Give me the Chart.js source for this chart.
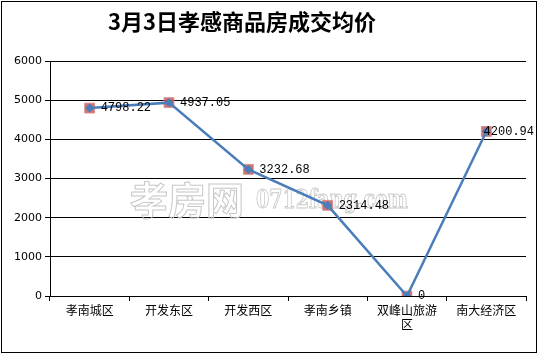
<!DOCTYPE html>
<html>
<head>
<meta charset="utf-8">
<script src="https://cdn.jsdelivr.net/npm/chart.js@4/dist/chart.umd.min.js"></script>
<style>
  html, body { margin: 0; padding: 0; background: #fff; }
  #wrap { width: 539px; height: 354px; position: relative; }
</style>
</head>
<body>
<div id="wrap"><canvas id="line-chart"></canvas></div>
<script>
// data
var titleText = "3月3日孝感商品房成交均价";
var districts = ["孝南城区", "开发东区", "开发西区", "孝南乡镇", ["双峰山旅游", "区"], "南大经济区"];
var avgPrice = [4798.22, 4937.05, 3232.68, 2314.48, 0, 4200.94];
var priceLabels = ["4798.22", "4937.05", "3232.68", "2314.48", "0", "4200.94"];
var yTicks = [0, 1000, 2000, 3000, 4000, 5000, 6000];

// frame, title, watermark and value labels
var decor = {
  id: "decor",
  beforeDraw: function(chart) {
    var ctx = chart.ctx;
    ctx.save();
    ctx.fillStyle = "#fff";
    ctx.fillRect(0, 0, chart.width, chart.height);
    ctx.strokeStyle = "#000";
    ctx.lineWidth = 1;
    ctx.strokeRect(1.5, 1.5, 535, 351);
    ctx.fillStyle = "#000";
    ctx.font = "bold 22px 'Noto Sans CJK SC'";
    ctx.textAlign = "center";
    ctx.textBaseline = "middle";
    ctx.fillText(titleText, 242, 22);
    ctx.restore();
  },
  beforeDatasetsDraw: function(chart) {
    var ctx = chart.ctx;
    ctx.save();
    ctx.strokeStyle = "#c8c8c8";
    ctx.lineWidth = 1;
    ctx.textBaseline = "alphabetic";
    ctx.font = "bold 38px 'Noto Sans CJK SC'";
    ctx.strokeText("孝房网", 130, 214);
    ctx.font = "bold 26px 'DejaVu Serif'";
    var w = ctx.measureText("0712fang.com").width;
    ctx.translate(256, 208);
    ctx.scale(152 / w, 1);
    ctx.strokeText("0712fang.com", 0, 0);
    ctx.restore();
  },
  afterDatasetsDraw: function(chart) {
    var ctx = chart.ctx;
    var meta = chart.getDatasetMeta(0);
    ctx.save();
    ctx.fillStyle = "#000";
    ctx.font = "12px 'Liberation Mono'";
    ctx.textBaseline = "middle";
    ctx.textAlign = "left";
    meta.data.forEach(function(pt, i) {
      var txt = priceLabels[i];
      var x = pt.x + 11;
      var w = ctx.measureText(txt).width;
      if (x + w > 534) x = 534 - w;
      ctx.fillText(txt, x, pt.y);
    });
    ctx.restore();
  }
};

var chart = new Chart(document.getElementById("line-chart"), {
  type: "line",
  data: {
    labels: districts,
    datasets: [{
      data: avgPrice,
      borderColor: "#4a7ebb",
      borderWidth: 2.5,
      pointStyle: "rectRot",
      pointRadius: 4,
      pointBackgroundColor: "#4a7ebb",
      pointBorderColor: "#4a7ebb",
      pointBorderWidth: 1,
      fill: false,
      tension: 0
    }, {
      data: avgPrice,
      showLine: false,
      pointStyle: "rect",
      pointRadius: 7,
      pointBackgroundColor: "rgba(192,80,77,0.8)",
      pointBorderColor: "rgba(220,140,140,0.9)",
      pointBorderWidth: 1
    }]
  },
  options: {
    responsive: true,
    maintainAspectRatio: false,
    animation: false,
    layout: { padding: { left: 0, right: 13, top: 61, bottom: 0 } },
    plugins: {
      legend: { display: false },
      tooltip: { enabled: false }
    },
    scales: {
      x: {
        offset: true,
        grid: {
          offset: true,
          drawOnChartArea: false,
          color: "#000",
          tickLength: 5
        },
        border: { color: "#000", width: 1 },
        ticks: {
          color: "#000",
          font: { family: "'Noto Sans CJK SC'", size: 12 },
          maxRotation: 0,
          autoSkip: false,
          padding: 2
        },
        afterFit: function(scale) { scale.height = 58; }
      },
      y: {
        min: 0,
        max: 6000,
        afterBuildTicks: function(scale) {
          scale.ticks = yTicks.map(function(v) { return { value: v }; });
        },
        grid: { color: "#000", tickLength: 5, lineWidth: 1 },
        border: { color: "#000", width: 1 },
        ticks: {
          color: "#000",
          font: { family: "'DejaVu Sans'", size: 11 },
          padding: 3,
          callback: function(v) { return String(v); }
        },
        afterFit: function(scale) { scale.width = 50; }
      }
    }
  },
  plugins: [decor]
});
</script>
</body>
</html>
